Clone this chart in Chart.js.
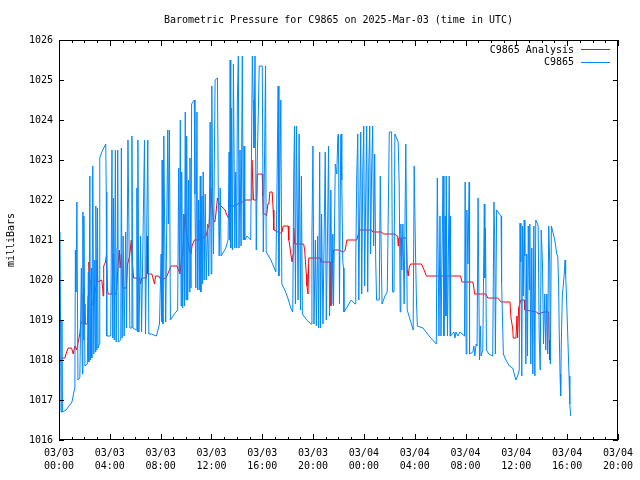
<!DOCTYPE html>
<html>
<head>
<meta charset="utf-8">
<script src="https://cdn.jsdelivr.net/npm/chart.js@4/dist/chart.umd.min.js"></script>
<style>
  body { margin: 0; background: #fff; }
  #box { width: 640px; height: 480px; }
</style>
</head>
<body>
<div id="box"><canvas id="grafico" width="640" height="480"></canvas></div>
<script>
var titulo = "Barometric Pressure for C9865 on 2025-Mar-03 (time in UTC)";
var rotuloY = "milliBars";
var nomesSeries = ["C9865 Analysis", "C9865"];

// x axis ticks, in hours since 03/03 00:00
var xTicks = [0, 4, 8, 12, 16, 20, 24, 28, 32, 36, 40, 44];
var xTickLabels = [
  ["03/03", "00:00"], ["03/03", "04:00"], ["03/03", "08:00"], ["03/03", "12:00"],
  ["03/03", "16:00"], ["03/03", "20:00"], ["03/04", "00:00"], ["03/04", "04:00"],
  ["03/04", "08:00"], ["03/04", "12:00"], ["03/04", "16:00"], ["03/04", "20:00"]
];
var yMin = 1016, yMax = 1026;

// C9865 station readings (hours, mb)
var horasEst = [
  0.08,0.16,0.23,0.27,0.55,0.78,1.02,1.17,1.25,1.29,1.33,1.41,1.49,1.64,1.76,1.84,1.88,1.92,1.96,2.04,
  2.23,2.31,2.35,2.43,2.47,2.55,2.58,2.66,2.74,2.82,2.86,2.90,2.98,3.03,3.08,3.17,3.21,3.37,3.52,3.68,
  3.72,3.76,4.07,4.17,4.23,4.29,4.35,4.44,4.50,4.57,4.62,4.67,4.86,4.91,4.97,5.05,5.13,5.25,5.32,5.43,
  5.51,5.58,5.68,5.74,5.82,6.07,6.13,6.19,6.21,6.29,6.42,6.50,6.73,6.81,6.99,7.07,7.28,7.67,7.91,8.04,
  8.09,8.12,8.18,8.25,8.32,8.40,8.56,8.61,8.69,8.77,9.08,9.34,9.42,9.48,9.55,9.61,9.66,9.73,9.81,9.87,
  9.94,10.00,10.05,10.13,10.20,10.26,10.31,10.39,10.44,10.65,10.70,10.77,10.86,10.91,10.99,11.04,11.12,11.17,11.25,11.30,
  11.35,11.43,11.51,11.59,11.69,11.79,11.90,11.98,12.03,12.08,12.16,12.29,12.47,12.53,12.61,12.69,12.76,13.13,13.31,13.39,
  13.43,13.47,13.52,13.57,13.65,13.73,13.84,13.91,13.99,14.04,14.12,14.17,14.25,14.33,14.43,14.51,14.57,14.62,14.80,15.09,
  15.22,15.29,15.35,15.43,15.53,15.61,15.69,15.76,16.00,16.08,16.18,16.26,16.31,16.68,17.07,17.17,17.25,17.31,17.38,17.46,
  17.54,17.78,18.01,18.25,18.40,18.48,18.54,18.61,18.69,18.77,18.82,18.90,19.01,19.08,19.16,19.50,19.85,19.91,19.99,20.07,
  20.18,20.26,20.36,20.44,20.52,20.59,20.67,20.78,20.96,21.04,21.14,21.22,21.30,21.40,21.48,21.56,21.61,21.75,21.87,21.95,
  22.00,22.06,22.08,22.18,22.22,22.26,22.34,22.40,22.43,22.63,23.00,23.31,23.36,23.44,23.52,23.60,23.67,23.75,23.83,23.91,
  23.99,24.06,24.14,24.22,24.30,24.38,24.46,24.53,24.61,24.69,24.77,24.85,24.93,25.00,25.21,25.29,25.37,25.43,25.66,25.84,
  25.92,26.00,26.18,26.26,26.37,26.44,26.57,26.70,26.78,26.86,26.91,26.99,27.07,27.17,27.30,27.41,27.74,27.88,27.96,28.06,
  28.14,28.21,28.66,29.13,29.70,29.78,29.91,29.99,30.07,30.23,30.30,30.40,30.46,30.48,30.58,30.72,30.78,30.80,30.85,31.09,
  31.17,31.25,31.40,31.56,31.92,31.97,32.05,32.11,32.19,32.29,32.32,32.58,32.66,32.73,32.84,32.91,32.99,33.10,33.18,33.22,
  33.36,33.48,33.52,33.57,33.65,33.83,34.14,34.24,34.30,34.35,34.45,34.56,34.67,34.80,34.81,34.87,34.98,35.18,35.45,35.71,
  35.97,36.10,36.23,36.29,36.36,36.43,36.49,36.54,36.62,36.67,36.75,36.82,36.88,36.94,37.02,37.06,37.14,37.22,37.30,37.38,
  37.46,37.53,37.61,37.72,37.80,37.88,37.96,38.06,38.14,38.24,38.32,38.40,38.47,38.55,38.63,38.68,38.76,38.84,38.92,39.02,
  39.10,39.18,39.26,39.33,39.37,39.44,39.49,39.54,39.62,39.76,39.84,39.88,39.96,40.02,40.09,40.15,40.21,40.28
];
var pressaoEst = [
  1021.2,1016.7,1019.0,1016.7,1016.75,1016.85,1016.95,1017.2,1017.3,1020.75,1019.7,1021.95,1017.5,1017.55,1020.3,1017.65,1021.7,1018.5,1021.6,1017.85,
  1017.9,1020.2,1017.95,1022.6,1018.0,1020.3,1018.05,1022.85,1018.15,1020.5,1018.2,1021.85,1018.25,1021.8,1018.3,1018.4,1023.05,1023.2,1023.3,1023.4,
  1022.2,1018.6,1018.6,1023.25,1018.55,1022.05,1018.5,1023.25,1018.45,1020.8,1023.25,1018.45,1018.5,1023.3,1018.55,1021.1,1018.6,1021.2,1018.8,1023.5,
  1021.1,1018.8,1018.8,1023.6,1018.8,1018.75,1022.3,1018.7,1023.5,1018.7,1021.1,1018.7,1023.5,1018.65,1023.5,1018.65,1018.65,1018.6,1018.9,1020.65,
  1018.95,1023.0,1018.9,1023.6,1021.2,1018.95,1023.75,1021.4,1023.75,1019.0,1019.15,1019.25,1022.8,1020.15,1024.0,1019.35,1022.7,1019.3,1021.65,1019.35,
  1024.2,1019.5,1023.6,1019.5,1022.5,1019.7,1023.05,1019.8,1024.4,1024.5,1022.15,1019.8,1024.2,1019.75,1022.0,1019.75,1022.6,1019.7,1022.1,1019.9,
  1022.7,1020.0,1022.15,1020.0,1021.4,1020.1,1023.95,1020.15,1024.85,1022.4,1020.65,1025.0,1025.05,1022.5,1020.6,1022.3,1020.6,1020.8,1021.0,1023.2,
  1021.0,1025.5,1020.8,1024.3,1020.75,1025.4,1020.8,1022.7,1020.8,1024.5,1025.6,1020.8,1023.25,1020.85,1025.6,1021.0,1023.35,1021.0,1021.1,1021.0,
  1025.6,1024.5,1023.3,1025.6,1020.75,1023.0,1024.2,1025.35,1025.35,1020.7,1023.0,1025.35,1020.7,1020.5,1020.2,1022.55,1024.85,1020.1,1022.5,1024.5,
  1019.9,1019.75,1019.55,1019.3,1019.2,1022.65,1023.85,1019.4,1023.85,1021.25,1019.5,1023.65,1019.25,1022.6,1019.15,1019.0,1018.9,1021.1,1023.35,1018.9,
  1021.0,1018.85,1021.1,1018.8,1023.2,1018.8,1021.65,1018.9,1023.2,1019.0,1021.2,1023.35,1019.1,1022.25,1019.4,1021.15,1019.35,1022.9,1022.65,1023.6,
  1023.65,1020.6,1019.4,1023.6,1023.65,1022.5,1020.45,1020.3,1019.2,1019.3,1019.5,1019.4,1020.45,1022.6,1023.65,1019.5,1021.65,1023.7,1019.65,1022.65,
  1023.85,1019.85,1022.0,1023.85,1019.7,1022.75,1023.85,1020.65,1022.75,1023.85,1020.85,1023.15,1020.5,1019.5,1019.5,1022.6,1020.55,1019.4,1019.6,1019.7,
  1021.7,1023.7,1023.7,1019.7,1019.7,1023.65,1023.55,1023.45,1022.35,1019.2,1021.4,1020.25,1021.4,1019.4,1023.4,1019.25,1018.9,1018.75,1022.85,1020.75,
  1019.45,1018.85,1018.8,1018.6,1018.4,1022.55,1018.6,1021.6,1018.6,1022.6,1018.6,1021.6,1019.1,1022.6,1018.6,1022.6,1018.6,1021.6,1018.6,1018.7,
  1018.55,1018.7,1018.6,1018.7,1018.6,1022.45,1018.15,1021.75,1020.4,1022.45,1018.15,1018.2,1018.35,1018.1,1018.4,1018.35,1022.05,1018.0,1018.85,1018.1,
  1018.25,1021.9,1020.05,1021.3,1018.25,1018.15,1018.1,1021.95,1020.95,1018.15,1021.75,1021.7,1021.65,1021.6,1020.75,1019.95,1018.15,1018.0,1017.85,1017.8,
  1017.5,1017.6,1017.75,1021.42,1020.45,1017.6,1021.35,1019.6,1021.5,1020.6,1017.9,1020.65,1018.1,1021.35,1019.75,1021.4,1017.9,1020.8,1017.65,1021.35,
  1017.6,1021.5,1021.45,1021.35,1018.6,1017.75,1021.25,1020.4,1018.4,1019.65,1018.25,1019.65,1018.15,1021.35,1020.45,1017.9,1021.35,1021.25,1021.15,1021.0,
  1020.85,1020.65,1020.6,1019.9,1018.85,1017.65,1017.1,1018.4,1019.6,1020.1,1020.5,1020.15,1019.5,1018.9,1018.2,1017.6,1016.9,1016.6
];

// C9865 Analysis (hours, mb)
var horasAna = [
  0.00,0.47,0.60,0.73,0.99,1.12,1.25,1.39,1.51,1.64,1.72,1.88,1.90,1.96,2.00,2.04,2.25,2.29,2.35,2.43,
  2.51,2.58,2.74,2.82,2.94,2.98,3.05,3.37,3.45,3.47,3.52,3.66,3.74,3.81,3.86,4.17,4.25,4.30,4.39,4.52,
  4.64,4.74,4.81,4.91,5.01,5.30,5.40,5.56,5.69,5.76,5.87,6.34,6.42,6.52,6.89,6.95,6.99,7.31,7.52,7.60,
  7.85,8.04,8.43,8.56,8.69,8.83,9.29,9.40,9.53,9.66,9.73,9.81,9.91,9.95,10.00,10.08,10.16,10.26,10.39,10.47,
  10.65,10.96,10.99,11.02,11.57,11.69,11.82,11.90,11.95,12.00,12.16,12.27,12.35,12.47,12.61,12.74,12.92,13.08,13.18,13.34,
  13.47,13.91,14.04,14.43,14.62,15.09,15.14,15.19,15.25,15.31,15.56,15.61,16.00,16.04,16.08,16.26,16.34,16.44,16.52,16.60,
  16.78,16.86,16.91,17.23,17.31,17.56,17.64,18.03,18.09,18.17,18.27,18.35,18.43,18.48,18.56,19.26,19.34,19.40,19.47,19.52,
  19.60,19.66,20.57,20.62,21.36,21.40,21.48,21.61,22.00,22.40,22.53,22.66,23.44,23.52,23.65,24.61,24.69,25.40,25.53,26.44,
  26.57,26.66,26.70,26.74,26.90,26.94,26.97,27.35,27.41,27.49,27.56,27.67,28.53,28.74,28.92,30.38,30.42,30.46,31.61,31.72,
  32.58,32.66,32.71,33.62,33.75,34.54,34.67,34.80,35.50,35.58,35.71,35.76,35.97,36.05,36.10,36.18,36.36,36.62,36.67,37.61,
  37.72,38.19,38.55,38.58,38.63
];
var pressaoAna = [
  1018.05,1018.05,1018.2,1018.3,1018.3,1018.15,1018.35,1018.25,1018.45,1018.65,1018.95,1018.9,1019.65,1019.8,1019.4,1018.9,1018.9,1019.6,1020.45,1020.0,
  1019.95,1019.4,1019.4,1019.7,1019.85,1020.5,1019.95,1020.0,1019.75,1019.6,1020.35,1020.45,1020.65,1019.8,1019.65,1019.65,1020.65,1020.4,1019.65,1019.65,
  1020.3,1020.75,1020.3,1020.65,1019.8,1019.8,1020.4,1020.6,1021.0,1020.5,1020.05,1020.05,1019.9,1020.05,1020.05,1021.1,1020.15,1020.15,1019.9,1020.1,
  1020.1,1020.0,1020.05,1020.15,1020.25,1020.35,1020.35,1020.25,1020.15,1020.6,1020.6,1021.0,1021.6,1021.65,1021.25,1021.1,1020.95,1020.75,1020.65,1020.85,
  1021.0,1021.0,1021.5,1021.0,1021.1,1021.25,1021.4,1021.85,1022.3,1022.0,1021.5,1021.45,1021.65,1022.05,1021.9,1021.85,1021.8,1021.75,1021.65,1021.55,
  1021.85,1021.85,1021.9,1021.95,1022.0,1022.0,1022.0,1023.0,1022.5,1022.0,1022.0,1022.65,1022.65,1022.1,1021.65,1021.65,1021.6,1021.9,1021.9,1022.2,
  1022.2,1021.75,1021.25,1021.2,1021.15,1021.2,1021.35,1021.35,1021.0,1020.85,1020.6,1020.45,1020.65,1021.3,1020.9,1020.9,1020.75,1020.45,1020.15,1019.85,
  1019.65,1020.55,1020.55,1020.45,1020.45,1019.35,1020.0,1020.75,1020.75,1020.7,1020.75,1021.0,1021.0,1021.1,1021.25,1021.25,1021.2,1021.2,1021.15,1021.15,
  1021.1,1021.1,1020.85,1021.05,1021.05,1020.6,1021.05,1021.05,1020.25,1020.1,1020.3,1020.4,1020.4,1020.25,1020.1,1020.1,1019.5,1020.1,1020.1,1019.95,
  1019.95,1019.8,1019.65,1019.65,1019.55,1019.55,1019.5,1019.45,1019.45,1019.05,1018.8,1018.55,1018.55,1019.1,1018.55,1019.3,1019.5,1019.5,1019.25,1019.2,
  1019.15,1019.2,1019.2,1018.5,1018.0
];

var corAna = "#ff0000";
var corEst = "#0088ff";
var fonte = "10px 'DejaVu Sans Mono', monospace";

function juntar(xs, ys) {
  var pts = [];
  for (var i = 0; i < xs.length; i++) {
    pts.push({ x: xs[i], y: ys[i] });
  }
  return pts;
}

// border, ticks, title, legend in the gnuplot look
var moldura = {
  id: "moldura",
  afterDraw: function (chart) {
    var ctx = chart.ctx;
    var a = chart.chartArea;
    var sx = chart.scales.x;
    var sy = chart.scales.y;
    ctx.save();
    ctx.strokeStyle = "#000";
    ctx.lineWidth = 1;
    ctx.strokeRect(Math.round(a.left) + 0.5, Math.round(a.top) + 0.5,
      Math.round(a.right - a.left) - 1, Math.round(a.bottom - a.top) - 1);

    ctx.beginPath();
    for (var h = 0; h <= 44; h++) {
      var px = Math.round(sx.getPixelForValue(h)) + 0.5;
      var len = (h % 4 === 0) ? 6 : 3;
      ctx.moveTo(px, a.bottom);
      ctx.lineTo(px, a.bottom - len);
      ctx.moveTo(px, a.top);
      ctx.lineTo(px, a.top + len);
    }
    for (var v = yMin; v <= yMax; v++) {
      var py = Math.round(sy.getPixelForValue(v)) + 0.5;
      ctx.moveTo(a.left, py);
      ctx.lineTo(a.left + 5, py);
      ctx.moveTo(a.right, py);
      ctx.lineTo(a.right - 5, py);
    }
    ctx.stroke();

    ctx.fillStyle = "#000";
    ctx.font = fonte;
    ctx.textAlign = "center";
    ctx.textBaseline = "middle";
    ctx.fillText(titulo, (a.left + a.right) / 2, 20);

    ctx.save();
    ctx.translate(11, (a.top + a.bottom) / 2);
    ctx.rotate(-Math.PI / 2);
    ctx.fillText(rotuloY, 0, 0);
    ctx.restore();

    var cores = [corAna, corEst];
    ctx.textAlign = "right";
    for (var i = 0; i < nomesSeries.length; i++) {
      var ly = 50 + i * 12.5;
      ctx.fillStyle = "#000";
      ctx.fillText(nomesSeries[i], 574, ly);
      ctx.strokeStyle = cores[i];
      ctx.beginPath();
      ctx.moveTo(581, Math.round(ly) - 0.5);
      ctx.lineTo(610, Math.round(ly) - 0.5);
      ctx.stroke();
    }
    ctx.restore();
  }
};

new Chart("grafico", {
  type: "line",
  data: {
    datasets: [{
      label: nomesSeries[1],
      data: juntar(horasEst, pressaoEst),
      borderColor: corEst,
      borderWidth: 1,
      pointRadius: 0,
      fill: false,
      tension: 0,
      order: 0
    }, {
      label: nomesSeries[0],
      data: juntar(horasAna, pressaoAna),
      borderColor: corAna,
      borderWidth: 1,
      pointRadius: 0,
      fill: false,
      tension: 0,
      order: 1
    }]
  },
  plugins: [moldura],
  options: {
    responsive: false,
    animation: false,
    layout: { padding: { left: 0, right: 19, top: 40, bottom: 0 } },
    plugins: {
      legend: { display: false },
      title: { display: false },
      tooltip: { enabled: false }
    },
    scales: {
      x: {
        type: "linear",
        min: 0,
        max: 44,
        border: { display: false },
        grid: { display: false, drawTicks: false },
        afterBuildTicks: function (scale) {
          scale.ticks = xTicks.map(function (t) { return { value: t }; });
        },
        afterFit: function (scale) { scale.height = 40; },
        ticks: {
          autoSkip: false,
          maxRotation: 0,
          padding: 7,
          color: "#000",
          font: { family: "'DejaVu Sans Mono', monospace", size: 10, lineHeight: 1.3 },
          callback: function (value) {
            var k = xTicks.indexOf(value);
            return k >= 0 ? xTickLabels[k] : "";
          }
        }
      },
      y: {
        min: yMin,
        max: yMax,
        border: { display: false },
        grid: { display: false, drawTicks: false },
        afterFit: function (scale) { scale.width = 59; },
        ticks: {
          stepSize: 1,
          padding: 6,
          color: "#000",
          font: { family: "'DejaVu Sans Mono', monospace", size: 10 },
          callback: function (value) { return String(value); }
        }
      }
    }
  }
});
</script>
</body>
</html>
